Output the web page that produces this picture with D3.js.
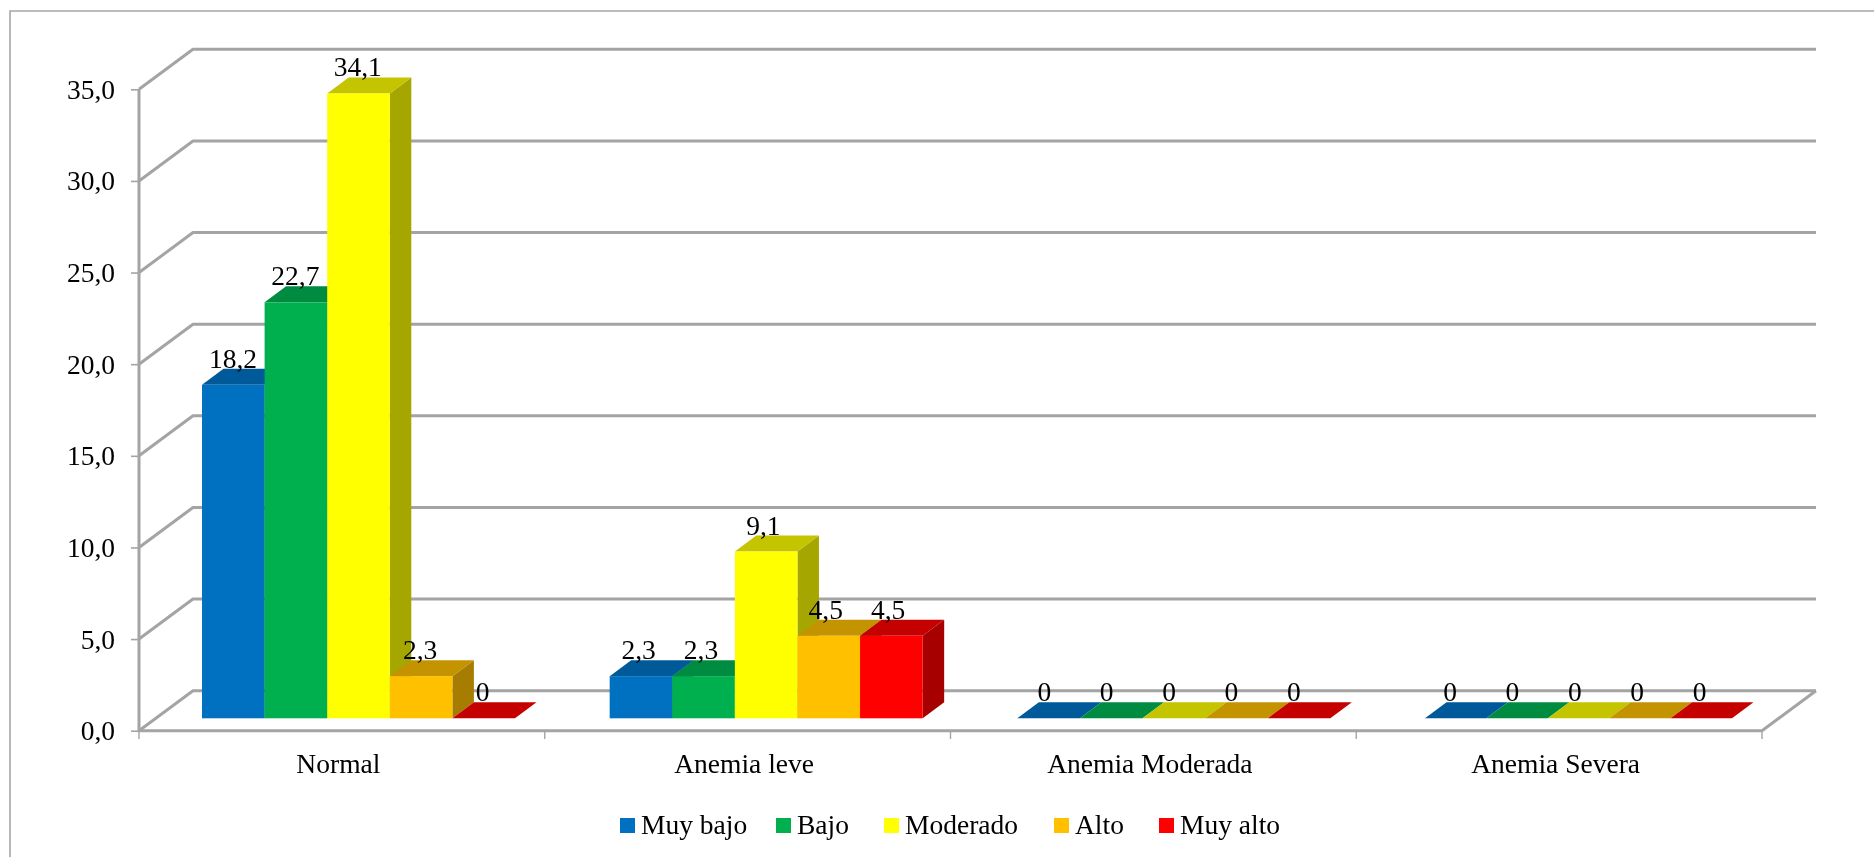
<!DOCTYPE html>
<html>
<head>
<meta charset="utf-8">
<script src="https://cdn.jsdelivr.net/npm/d3@7"></script>
<style>
html,body{margin:0;padding:0;background:#fff;overflow:hidden}
svg{display:block}
text{font-family:"Liberation Serif","Times New Roman",serif;font-size:27.5px;fill:#000}
</style>
</head>
<body>
<svg id="chart" width="1874" height="857"></svg>
<script>
const categories = ["Normal", "Anemia leve", "Anemia Moderada", "Anemia Severa"];
const seriesNames = ["Muy bajo", "Bajo", "Moderado", "Alto", "Muy alto"];
const muyBajo = [18.2, 2.3, 0, 0];
const bajo = [22.7, 2.3, 0, 0];
const moderado = [34.1, 9.1, 0, 0];
const alto = [2.3, 4.5, 0, 0];
const muyAlto = [0, 4.5, 0, 0];
const seriesValues = [muyBajo, bajo, moderado, alto, muyAlto];
const yTicks = [0, 5, 10, 15, 20, 25, 30, 35];

const frontColors = ["#0070C0", "#00B050", "#FFFF00", "#FFC000", "#FF0000"];
const topColors = ["#005A9A", "#008C40", "#C4C400", "#C49300", "#C40000"];
const sideColors = ["#004D85", "#007A37", "#A6A600", "#A67D00", "#A60000"];

const W = 1874, H = 857;
const axisLeft = 139, axisRight = 1762, axisBase = 730.7, axisTop = 89.3;
const wallDx = 54, wallDy = 40;
const barBase = 718.3, barDx = 21.5, barDy = 16;
const gridColor = "#a4a4a4";
const groupSpan = d3.scaleOrdinal(categories, [313, 313, 313, 307]);

const svg = d3.select("#chart");
const defs = svg.append("defs");
[["soft", 0.5], ["softer", 0.75]].forEach(([id, sd]) => {
  defs.append("filter").attr("id", id)
    .attr("filterUnits", "userSpaceOnUse")
    .attr("x", 0).attr("y", 0).attr("width", W).attr("height", H)
    .append("feGaussianBlur").attr("stdDeviation", sd);
});

const root = svg.append("g").attr("filter", "url(#soft)");

// Chart frame: runs off the right and bottom of the picture
root.append("path")
  .attr("d", d3.line()([[10, H + 4], [10, 11], [W + 4, 11]]))
  .attr("fill", "none").attr("stroke", "#a6a6a6").attr("stroke-width", 1.6);

const y = d3.scaleLinear().domain([0, 35]).range([axisBase, axisTop]);
const xAxisScale = d3.scaleBand().domain(categories).range([axisLeft, axisRight]);
const groupX = d3.scalePoint().domain(categories).range([202, 1425]);
const labelGroupX = d3.scalePoint().domain(categories).range([233, 1450]);
const labelOffset = d3.scalePoint().domain(seriesNames).range([0, 249.5]);
const color = s => d3.scaleOrdinal(seriesNames, s);
const front = color(frontColors), topC = color(topColors), side = color(sideColors);

const locale = d3.formatLocale({decimal: ",", thousands: ".", grouping: [3], currency: ["", ""]});
const tickFmt = locale.format(".1f");
const labelFmt = locale.format(".1~f");

// Walls: back gridlines plus slanted side lines
const walls = root.append("g").attr("filter", "url(#softer)")
  .attr("fill", "none").attr("stroke", gridColor).attr("stroke-width", 3);
walls.selectAll("path").data(yTicks).join("path")
  .attr("stroke-linejoin", "round")
  .attr("d", t => d3.line()([
    [axisLeft, y(t)],
    [axisLeft + wallDx, y(t) - wallDy],
    [axisRight + wallDx, y(t) - wallDy]
  ]));
// Front floor edge, right floor edge, vertical axis
walls.append("path").attr("d", d3.line()([
  [axisLeft, y(35)], [axisLeft, y(0)], [axisRight, y(0)], [axisRight + wallDx, y(0) - wallDy]
]));

// Axes (ticks + labels)
const yAxis = d3.axisLeft(y).tickValues(yTicks).tickFormat(tickFmt).tickSize(8).tickPadding(16);
const gy = root.append("g").attr("transform", `translate(${axisLeft},0)`).call(yAxis);
gy.select(".domain").remove();
gy.selectAll("line").attr("stroke", gridColor).attr("stroke-width", 1.6);
gy.selectAll("text").attr("font-size", null).attr("dy", null).attr("y", 9).style("font-size", "27.5px").style("font-family", '"Liberation Serif"');

root.append("g").selectAll("line").data(d3.range(categories.length + 1)).join("line")
  .attr("x1", i => axisLeft + i * xAxisScale.step()).attr("x2", i => axisLeft + i * xAxisScale.step())
  .attr("y1", axisBase).attr("y2", 739)
  .attr("stroke", gridColor).attr("stroke-width", 1.4);

root.append("g").selectAll("text").data(categories).join("text")
  .attr("x", c => xAxisScale(c) + xAxisScale.bandwidth() / 2 - 3.5)
  .attr("y", 773).attr("text-anchor", "middle").text(c => c);

// Bars
const marks = root.append("g");
const labelLayer = root.append("g");
categories.forEach((cat, ci) => {
  const barX = d3.scaleBand().domain(seriesNames).range([0, groupSpan(cat)]);
  const bw = barX.bandwidth();
  seriesNames.forEach((name, si) => {
    const v = seriesValues[si][ci];
    const x0 = groupX(cat) + barX(name), x1 = x0 + bw, t = y(v) - (axisBase - barBase);
    marks.append("path").attr("fill", side(name))
      .attr("d", d3.line()([[x1, t], [x1 + barDx, t - barDy], [x1 + barDx, barBase - barDy], [x1, barBase]]) + "Z");
    marks.append("path").attr("fill", topC(name))
      .attr("d", d3.line()([[x0, t], [x0 + barDx, t - barDy], [x1 + barDx, t - barDy], [x1, t]]) + "Z");
    if (v > 0) marks.append("rect").attr("fill", front(name))
      .attr("x", x0).attr("y", t).attr("width", bw).attr("height", barBase - t);
    labelLayer.append("text").attr("x", labelGroupX(cat) + labelOffset(name)).attr("y", t - 17)
      .attr("text-anchor", "middle").text(labelFmt(v));
  });
});

// Legend
const legendX = d3.scaleOrdinal(seriesNames, [620, 776, 884, 1054, 1159]);
const lg = root.append("g").selectAll("g").data(seriesNames).join("g")
  .attr("transform", d => `translate(${legendX(d)},0)`);
lg.append("rect").attr("y", 818).attr("width", 15).attr("height", 15).attr("fill", d => front(d));
lg.append("text").attr("x", 21).attr("y", 834).text(d => d);
</script>
</body>
</html>
